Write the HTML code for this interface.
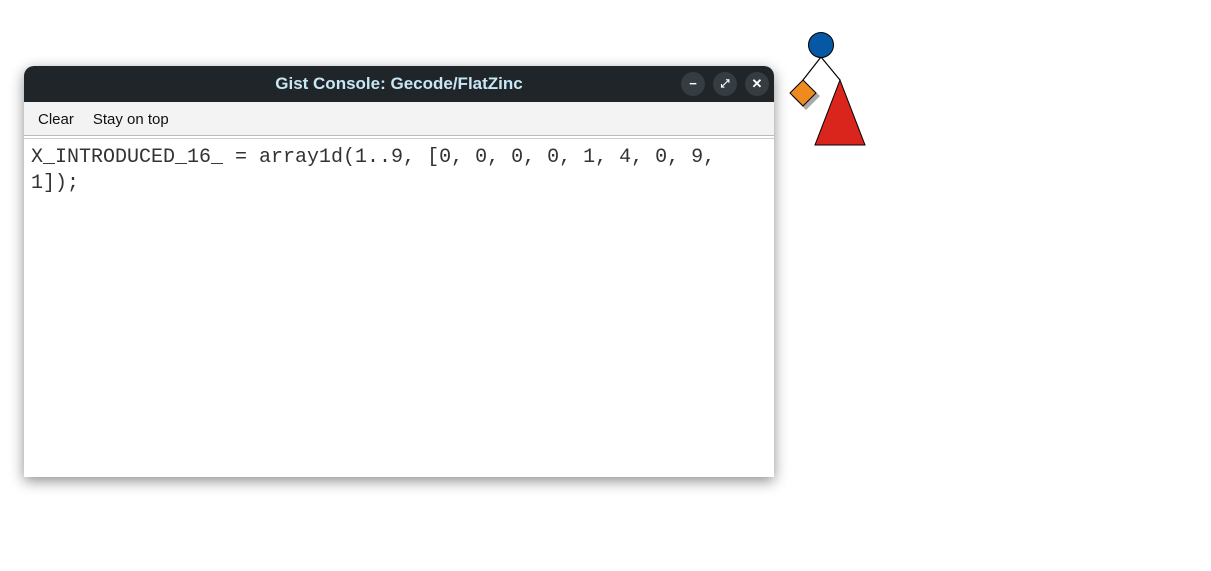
<!DOCTYPE html>
<html><head><meta charset="utf-8"><style>
body{margin:0;width:1211px;height:571px;background:#fff;position:relative;overflow:hidden;font-family:"Liberation Sans",sans-serif}
.win{position:absolute;left:24px;top:66px;width:750px;height:411px;background:#fff;border-radius:10px 10px 0 0;box-shadow:0 4px 14px rgba(0,0,0,.45);overflow:hidden}
.title{height:36px;background:#1f2528;color:#c8e6f5;font-weight:bold;font-size:17px;text-align:center;line-height:36px}
.btn{position:absolute;top:6px;width:24px;height:24px;border-radius:12px;background:#353d42;color:#fff;font-size:13px;text-align:center;line-height:24px;font-weight:bold}
.menu{height:33px;background:#f3f3f3;font-size:15px;line-height:36px;border-bottom:1px solid #bbb}
.menu span{margin-left:14px;margin-right:5px;color:#111}
.sep{height:2px;background:#fff;border-bottom:1px solid #ccc}
.txt{font-family:"Liberation Mono",monospace;font-size:20px;line-height:26px;padding:6px 7px;color:#333;white-space:pre}
</style></head><body>
<div class="win">
<div class="title">Gist Console: Gecode/FlatZinc</div>
<div class="btn" style="left:657px">−</div>
<div class="btn" style="left:689px;font-size:11px">⤢</div>
<div class="btn" style="left:721px">✕</div>
<div class="menu"><span>Clear</span><span>Stay on top</span></div>
<div class="sep"></div>
<div class="txt">X_INTRODUCED_16_ = array1d(1..9, [0, 0, 0, 0, 1, 4, 0, 9,
1]);</div>
</div>
<svg style="position:absolute;left:0;top:0" width="1211" height="571">
<line x1="821" y1="57" x2="803" y2="80" stroke="#000" stroke-width="1.2"/>
<line x1="821" y1="57" x2="840" y2="80" stroke="#000" stroke-width="1.2"/>
<polygon points="806,83 820,96 806,110 792,96" fill="#aaa"/>
<polygon points="803,80 816,93 803,106 790,93" fill="#ee8a1e" stroke="#000" stroke-width="1"/>
<polygon points="840,80 865,145 815,145" fill="#da251d" stroke="#000" stroke-width="1"/>
<circle cx="821" cy="45" r="12.5" fill="#0559a4" stroke="#000" stroke-width="1"/>
</svg>
</body></html>
